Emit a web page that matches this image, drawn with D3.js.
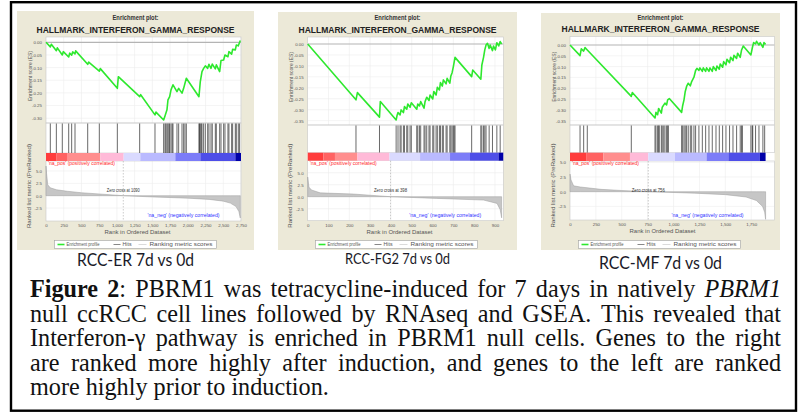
<!DOCTYPE html>
<html>
<head>
<meta charset="utf-8">
<script src="https://cdn.jsdelivr.net/npm/d3@7/dist/d3.min.js"></script>
<style>
  body { margin: 0; background: #fff; }
  svg { display: block; }
</style>
</head>
<body>
<div class="canva"></div>
<script>
// values
const panelNames = ["RCC-ER 7d vs 0d", "RCC-FG2 7d vs 0d", "RCC-MF 7d vs 0d"];
const geneSet = "HALLMARK_INTERFERON_GAMMA_RESPONSE";
const zeroCross = [1090, 398, 756];

const rankTicks1 = [0, 250, 500, 750, 1000, 1250, 1500, 1750, 2000, 2250, 2500, 2750];
const rankTicks2 = [0, 100, 200, 300, 400, 500, 600, 700, 800, 900];
const rankTicks3 = [0, 250, 500, 750, 1000, 1250, 1500, 1750];
const esTicks1 = [0, -0.05, -0.10, -0.15, -0.20, -0.25, -0.30];
const esTicks23 = [0, -0.05, -0.10, -0.15, -0.20, -0.25, -0.30, -0.35];
const metricTicks = [5, 2.5, 0, -2.5];

// running enrichment score, [rank, ES]
const es1 = [[0, 0], [61, -0.018], [75, -0.008], [146, -0.033], [160, -0.022], [230, -0.050], [244, -0.037],
  [320, -0.058], [334, -0.043], [362, -0.051], [376, -0.038], [409, -0.046], [418, -0.034], [588, -0.087],
  [602, -0.078], [752, -0.114], [766, -0.104], [1006, -0.182], [1020, -0.136], [1321, -0.215], [1335, -0.207],
  [1537, -0.287], [1551, -0.276], [1659, -0.307], [1678, -0.291], [1706, -0.267], [1720, -0.228], [1744, -0.215],
  [1763, -0.188], [1791, -0.168], [1847, -0.195], [1871, -0.182], [1918, -0.201], [1941, -0.182], [1979, -0.142],
  [2157, -0.215], [2176, -0.155], [2200, -0.116], [2223, -0.103], [2247, -0.093], [2280, -0.103], [2298, -0.087],
  [2327, -0.103], [2345, -0.086], [2388, -0.105], [2402, -0.089], [2449, -0.116], [2468, -0.072], [2505, -0.070],
  [2524, -0.050], [2566, -0.057], [2580, -0.037], [2618, -0.047], [2632, -0.028], [2670, -0.030], [2684, -0.011],
  [2712, -0.014], [2740, 0.007]];
const es2 = [[0, 0], [232, -0.255], [239, -0.222], [345, -0.334], [349, -0.263], [425, -0.347], [429, -0.328],
  [434, -0.313], [444, -0.324], [449, -0.301], [460, -0.313], [465, -0.286], [476, -0.298], [481, -0.274],
  [492, -0.289], [498, -0.268], [524, -0.298], [529, -0.274], [537, -0.283], [543, -0.263], [559, -0.293],
  [564, -0.263], [572, -0.243], [583, -0.258], [588, -0.233], [601, -0.251], [606, -0.217], [617, -0.233],
  [623, -0.198], [633, -0.210], [638, -0.176], [647, -0.192], [652, -0.164], [665, -0.182], [670, -0.157],
  [683, -0.179], [688, -0.146], [694, -0.131], [700, -0.103], [708, -0.061], [788, -0.149], [793, -0.119],
  [832, -0.161], [837, -0.096], [845, -0.061], [851, -0.027], [857, -0.005], [864, 0.003], [872, -0.020],
  [877, -0.005], [888, -0.030], [893, -0.009], [902, -0.027], [909, 0.006], [918, -0.009], [925, 0.011], [932, 0.0]];
const es3 = [[0, 0], [97, -0.049], [109, -0.018], [132, -0.028], [145, -0.012], [167, -0.023], [592, -0.238],
  [602, -0.220], [821, -0.338], [830, -0.312], [846, -0.323], [856, -0.294], [882, -0.315], [891, -0.288],
  [917, -0.269], [933, -0.277], [943, -0.254], [959, -0.248], [1078, -0.312], [1088, -0.281], [1101, -0.254],
  [1113, -0.215], [1126, -0.192], [1142, -0.177], [1162, -0.189], [1175, -0.169], [1197, -0.149], [1213, -0.118],
  [1226, -0.108], [1245, -0.118], [1255, -0.106], [1278, -0.122], [1287, -0.106], [1310, -0.122], [1319, -0.106],
  [1342, -0.122], [1352, -0.106], [1374, -0.122], [1384, -0.100], [1410, -0.118], [1419, -0.097], [1442, -0.112],
  [1451, -0.088], [1474, -0.103], [1484, -0.077], [1506, -0.092], [1516, -0.066], [1541, -0.082], [1551, -0.057],
  [1574, -0.072], [1583, -0.048], [1609, -0.062], [1619, -0.038], [1644, -0.057], [1657, -0.023], [1673, -0.005],
  [1747, -0.046], [1760, -0.015], [1773, 0.011], [1792, 0.005], [1802, 0.017], [1825, 0.0], [1837, 0.011],
  [1863, -0.011], [1873, 0.011], [1889, 0.003]];

// gene set members (hits) along the ranked list
const hits1 = [61, 146, 230, 320, 362, 409, 588, 752, 1006, 1321, 1537, 1659, 1678, 1690, 1706, 1720, 1735, 1744,
  1763, 1780, 1791, 1847, 1871, 1918, 1941, 1960, 1979, 2157, 2165, 2176, 2190, 2200, 2223, 2247, 2280, 2298, 2327,
  2345, 2388, 2402, 2449, 2468, 2505, 2524, 2566, 2580, 2618, 2632, 2670, 2684, 2712, 2730];
const hits2 = [232, 345, 425, 434, 444, 449, 460, 465, 476, 481, 492, 498, 524, 529, 537, 543, 559, 564, 572, 583,
  588, 601, 606, 617, 623, 633, 638, 647, 652, 665, 670, 683, 688, 694, 700, 704, 708, 788, 832, 837, 845, 851, 857,
  872, 888, 909, 925];
const hits3 = [97, 132, 167, 592, 821, 830, 846, 856, 862, 882, 891, 905, 917, 933, 943, 950, 1078, 1088, 1101, 1113,
  1126, 1142, 1162, 1175, 1197, 1213, 1245, 1278, 1310, 1342, 1374, 1410, 1442, 1474, 1506, 1541, 1574, 1609, 1644,
  1657, 1665, 1747, 1760, 1765, 1792, 1825, 1863, 1880];

// ranked list metric, [rank, value]
const metric1 = [[0, 6.0], [8, 4.5], [25, 2.2], [60, 1.6], [150, 1.2], [300, 0.9], [500, 0.6], [800, 0.3], [1090, 0],
  [1500, -0.25], [2000, -0.5], [2300, -0.75], [2500, -1.1], [2600, -1.5], [2680, -2.2], [2720, -3.2], [2740, -4.5]];
const metric2 = [[0, 4.1], [6, 2.0], [18, 1.4], [60, 0.8], [220, 0.55], [398, 0], [620, -0.35], [845, -0.7],
  [910, -1.4], [925, -2.7], [932, -4.4]];
const metric3 = [[0, 3.0], [10, 2.0], [35, 1.0], [100, 0.8], [300, 0.4], [500, 0.2], [756, 0], [1200, -0.25],
  [1500, -0.5], [1700, -0.9], [1800, -1.5], [1860, -2.5], [1880, -3.5], [1889, -4.7]];

// heat bar breakpoints (rank)
const band1 = [0, 150, 296, 766, 1095, 1330, 1824, 2176, 2670, 2750];
const band2 = [0, 75, 131, 239, 393, 540, 684, 780, 917, 940];
const band3 = [0, 161, 322, 579, 756, 1014, 1319, 1529, 1834, 1889];

const captionLines = [
  [[["Figure", "b"]], [["2", "b"], [":", "n"]], "PBRM1", "was", "tetracycline-induced", "for", "7", "days", "in", "natively", [["PBRM1", "i"]]],
  "null ccRCC cell lines followed by RNAseq and GSEA. This revealed that".split(" "),
  "Interferon-γ pathway is enriched in PBRM1 null cells. Genes to the right".split(" "),
  "are ranked more highly after induction, and genes to the left are ranked".split(" "),
  "more highly prior to induction.".split(" ")
];

// ---- layout ----
const bandColors = ["#ff3c3c", "#ff6262", "#ff8e8e", "#ffbad8", "#dadaff", "#babaff", "#7c7cf8", "#4e4ee8", "#0000a8"];
const green = "#2ee82e";
const sans = "'Liberation Sans', Arial, sans-serif";

const panels = [
  { bg: [17, 11, 254, 250], L: 46, R: 241, top: 37, hitTop: 123, barTop: 153, barBot: 161, bot: 221,
    es0: 42.3, esPer: 253, rk0: 195.7, rkPer: 4.94, xMax: 2750, capY: 259, capW: 117, capF: 17.5,
    es: es1, hits: hits1, metric: metric1, band: band1, ticks: rankTicks1, esTicks: esTicks1 },
  { bg: [278, 12, 517, 250], L: 307.7, R: 503.3, top: 37, hitTop: 125, barTop: 152.7, barBot: 160.7, bot: 220.7,
    es0: 44, esPer: 219, rk0: 196.7, rkPer: 4.8, xMax: 940, capY: 257, capW: 105, capF: 16,
    es: es2, hits: hits2, metric: metric2, band: band2, ticks: rankTicks2, esTicks: esTicks23 },
  { bg: [541, 13, 780, 250], L: 570, R: 774.5, top: 36.5, hitTop: 125, barTop: 152.7, barBot: 161, bot: 220,
    es0: 45, esPer: 216, rk0: 191.7, rkPer: 5.88, xMax: 1975, capY: 262, capW: 123, capF: 17.5,
    es: es3, hits: hits3, metric: metric3, band: band3, ticks: rankTicks3, esTicks: esTicks23 }
];

const svg = d3.select(".canva").append("svg")
  .attr("width", 800)
  .attr("height", 413);

svg.append("rect")
  .attr("width", 800).attr("height", 413)
  .attr("fill", "#fff");

// outer frame
svg.append("rect")
  .attr("x", 11).attr("y", 2.2)
  .attr("width", 785).attr("height", 408.5)
  .attr("fill", "none")
  .attr("stroke", "#000")
  .attr("stroke-width", 2.4);

function tinyText(g, x, y, str, len, opts) {
  const t = g.append("text")
    .attr("x", x).attr("y", y)
    .attr("font-family", sans)
    .attr("font-size", opts.size || 4.6)
    .attr("fill", opts.fill || "#555")
    .attr("text-anchor", opts.anchor || "start")
    .attr("dominant-baseline", "central")
    .text(str);
  if (len) t.attr("textLength", len).attr("lengthAdjust", "spacingAndGlyphs");
  if (opts.weight) t.attr("font-weight", opts.weight);
  if (opts.rotate) t.attr("transform", `rotate(-90 ${x} ${y})`);
  return t;
}

panels.forEach((p, i) => {
  const g = svg.append("g");
  const [bx0, by0, bx1, by1] = p.bg;
  const cx = (bx0 + bx1) / 2;

  g.append("rect")
    .attr("x", bx0).attr("y", by0)
    .attr("width", bx1 - bx0).attr("height", by1 - by0)
    .attr("fill", "#ece9d8");

  // titles
  tinyText(g, cx, p.top - 19.5, "Enrichment plot:", 46, { size: 7, weight: "bold", fill: "#333", anchor: "middle" });
  tinyText(g, cx, p.top - 7.5, geneSet, 198, { size: 8.5, weight: "bold", fill: "#222", anchor: "middle" });

  const x = d3.scaleLinear().domain([0, p.xMax]).range([p.L, p.R]);
  const esY = d3.scaleLinear().domain([0, -1]).range([p.es0, p.es0 + p.esPer]);
  const rkY = d3.scaleLinear().domain([0, 1]).range([p.rk0, p.rk0 - p.rkPer]);

  // white plotting area
  g.append("rect")
    .attr("x", p.L).attr("y", p.top)
    .attr("width", p.R - p.L).attr("height", p.bot - p.top)
    .attr("fill", "#fff");

  // grids
  const grid = g.append("g").attr("stroke", "#ececec").attr("stroke-width", 0.6);
  grid.selectAll(".vx").data(p.ticks.slice(1)).join("line")
    .attr("class", "vx")
    .attr("x1", d => x(d)).attr("x2", d => x(d))
    .attr("y1", p.top).attr("y2", p.hitTop);
  grid.selectAll(".vr").data(p.ticks.slice(1)).join("line")
    .attr("class", "vr")
    .attr("x1", d => x(d)).attr("x2", d => x(d))
    .attr("y1", p.barBot).attr("y2", p.bot);
  grid.selectAll(".he").data(p.esTicks.slice(1)).join("line")
    .attr("class", "he")
    .attr("x1", p.L).attr("x2", p.R)
    .attr("y1", d => esY(d)).attr("y2", d => esY(d));
  grid.selectAll(".hr").data(metricTicks.filter(d => d !== 0)).join("line")
    .attr("class", "hr")
    .attr("x1", p.L).attr("x2", p.R)
    .attr("y1", d => rkY(d)).attr("y2", d => rkY(d));

  // ES zero line
  g.append("line")
    .attr("x1", p.L).attr("x2", p.R)
    .attr("y1", esY(0)).attr("y2", esY(0))
    .attr("stroke", "#b4b4b4").attr("stroke-width", 1.2);

  // frames of the sub plots
  [[p.top, p.hitTop], [p.hitTop, p.barTop], [p.barBot, p.bot]].forEach(([a, b]) => {
    g.append("rect")
      .attr("x", p.L).attr("y", a)
      .attr("width", p.R - p.L).attr("height", b - a)
      .attr("fill", "none").attr("stroke", "#c8c8c8").attr("stroke-width", 0.6);
  });

  // hits
  g.selectAll(".hit").data(p.hits).join("line")
    .attr("class", "hit")
    .attr("x1", d => x(d)).attr("x2", d => x(d))
    .attr("y1", p.hitTop + 0.5).attr("y2", p.barTop)
    .attr("stroke", "#2a2a2a").attr("stroke-width", 0.7);

  // heat bar
  g.selectAll(".band").data(d3.pairs(p.band)).join("rect")
    .attr("class", "band")
    .attr("x", d => x(d[0])).attr("width", d => x(d[1]) - x(d[0]))
    .attr("y", p.barTop).attr("height", p.barBot - p.barTop)
    .attr("fill", (d, k) => bandColors[k]);

  // ranked metric
  g.append("path")
    .datum(p.metric)
    .attr("d", d3.area().x(d => x(d[0])).y0(rkY(0)).y1(d => rkY(d[1])))
    .attr("fill", "#c6c6c6").attr("stroke", "#9c9c9c").attr("stroke-width", 0.5);
  g.append("line")
    .attr("x1", x(zeroCross[i])).attr("x2", x(zeroCross[i]))
    .attr("y1", p.barBot).attr("y2", p.bot)
    .attr("stroke", "#aaa").attr("stroke-width", 0.6).attr("stroke-dasharray", "1.5,1.5");

  // ES curve
  g.append("path")
    .datum(p.es)
    .attr("d", d3.line().x(d => x(d[0])).y(d => esY(d[1])))
    .attr("fill", "none").attr("stroke", green).attr("stroke-width", 1.6)
    .attr("stroke-linejoin", "round");

  // axes
  const esAxis = g.append("g")
    .attr("transform", `translate(${p.L},0)`)
    .call(d3.axisLeft(esY).tickValues(p.esTicks).tickFormat(d => d.toFixed(2)).tickSize(0).tickPadding(4));
  const rkAxis = g.append("g")
    .attr("transform", `translate(${p.L},0)`)
    .call(d3.axisLeft(rkY).tickValues(metricTicks).tickFormat(d => d.toFixed(1)).tickSize(0).tickPadding(4));
  const xAxis = g.append("g")
    .attr("transform", `translate(0,${p.bot})`)
    .call(d3.axisBottom(x).tickValues(p.ticks).tickFormat(d3.format(",")).tickSize(0).tickPadding(3.2));
  [esAxis, rkAxis, xAxis].forEach(a => {
    a.select(".domain").remove();
    a.selectAll("text")
      .attr("font-family", sans)
      .attr("font-size", 4.4)
      .attr("fill", "#555");
  });

  // axis titles
  tinyText(g, p.L - 16, (p.top + p.hitTop) / 2 - 4, "Enrichment score (ES)", 50, { rotate: true, anchor: "middle" });
  tinyText(g, p.L - 17, (p.barBot + p.bot) / 2 - 5, "Ranked list metric (PreRanked)", 84, { rotate: true, anchor: "middle" });
  tinyText(g, cx + 2, p.bot + 11, "Rank in Ordered Dataset", 66, { size: 5.2, anchor: "middle" });

  // annotations
  tinyText(g, p.L + 2, p.barBot + 2.6, "'na_pos' (positively correlated)", 67, { fill: "#ff2a2a" });
  tinyText(g, p.L + 101.5, 215, "'na_neg' (negatively correlated)", 72, { fill: "#3434ff" });
  tinyText(g, x(zeroCross[i]), 190, "Zero cross at " + zeroCross[i], 33, { fill: "#333", anchor: "middle" });

  // legend
  const lx = bx0 + 37.5, ly = 240.5;
  g.append("rect")
    .attr("x", lx).attr("y", ly).attr("width", 162).attr("height", 8)
    .attr("fill", "#fff").attr("stroke", "#a0a0a0").attr("stroke-width", 0.6);
  const my = ly + 4;
  g.append("line").attr("x1", lx + 3).attr("x2", lx + 10).attr("y1", my).attr("y2", my)
    .attr("stroke", green).attr("stroke-width", 1.6);
  tinyText(g, lx + 12, my, "Enrichment profile", 33, { size: 4.6 });
  g.append("line").attr("x1", lx + 59).attr("x2", lx + 66).attr("y1", my).attr("y2", my)
    .attr("stroke", "#555").attr("stroke-width", 0.7);
  tinyText(g, lx + 68, my, "Hits", 9, { size: 4.6 });
  g.append("line").attr("x1", lx + 84).attr("x2", lx + 92).attr("y1", my).attr("y2", my)
    .attr("stroke", "#ccc").attr("stroke-width", 0.7);
  tinyText(g, lx + 95, my, "Ranking metric scores", 63, { size: 4.6 });

  // sample caption
  g.append("text")
    .attr("x", cx).attr("y", p.capY)
    .attr("text-anchor", "middle")
    .attr("dominant-baseline", "central")
    .attr("font-family", "Lato, 'Open Sans', sans-serif")
    .attr("font-size", p.capF)
    .attr("fill", "#1a1a28")
    .attr("textLength", p.capW)
    .attr("lengthAdjust", "spacingAndGlyphs")
    .text(panelNames[i]);
});

// figure legend, justified like the source
const capL = 30, capR = 781, capBase = [297, 321.5, 346, 370.5, 395];
captionLines.forEach((words, li) => {
  const items = words.map(w => {
    const segs = typeof w === "string" ? [[w, "n"]] : w;
    const t = svg.append("text")
      .attr("y", capBase[li])
      .attr("font-family", "'Liberation Serif', 'Times New Roman', serif")
      .attr("font-size", 24.2)
      .attr("fill", "#111");
    segs.forEach(([s, st]) => {
      t.append("tspan")
        .attr("font-weight", st === "b" ? "bold" : "normal")
        .attr("font-style", st === "i" ? "italic" : "normal")
        .text(s);
    });
    return t;
  });
  const widths = items.map(t => t.node().getComputedTextLength());
  const total = d3.sum(widths);
  const last = li === captionLines.length - 1;
  const gap = last ? 6 : Math.max(3, (capR - capL - total) / (items.length - 1));
  let cur = capL;
  items.forEach((t, k) => {
    t.attr("x", cur);
    cur += widths[k] + gap;
  });
});
</script>
</body>
</html>
